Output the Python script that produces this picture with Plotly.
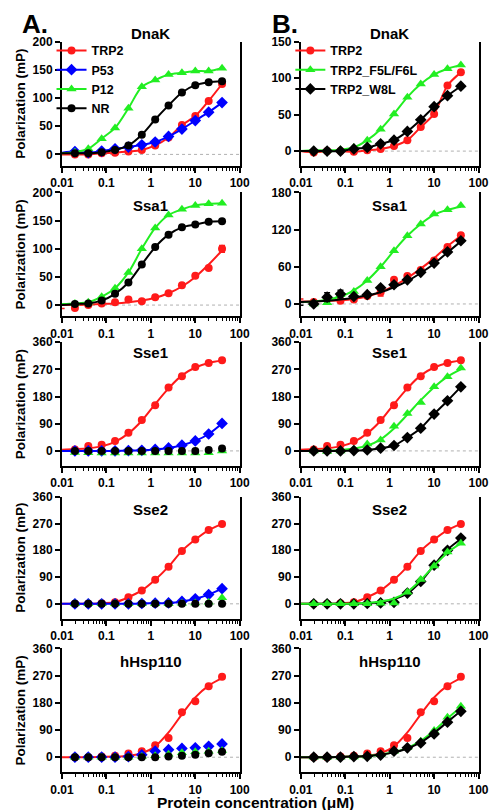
import plotly.graph_objects as go

# ---------------- data ----------------
CONC = [0.0098, 0.0195, 0.039, 0.078, 0.156, 0.3125, 0.625, 1.25, 2.5, 5, 10, 20, 40]
X_TICKVALS = [0.01, 0.1, 1, 10, 100]
X_TICKTEXT = ["0.01", "0.1", "1", "10", "100"]

ROW_TITLES = ["DnaK", "Ssa1", "Sse1", "Sse2", "hHsp110"]
A_NAMES = ["TRP2", "P53", "P12", "NR"]
B_NAMES = ["TRP2", "TRP2_F5L/F6L", "TRP2_W8L"]

# Panel A (measured points; *_fit = fitted curve read at the same concentrations)
A_DnaK_TRP2 = [0, 0, 0, 2, 3, 5, 8, 16, 30, 52, 68, 95, 125]
A_DnaK_P53 = [3, 5, 3, 6, 10, 13, 17, 22, 32, 45, 60, 75, 92]
A_DnaK_P12 = [2, 4, 10, 28, 47, 82, 120, 132, 142, 145, 148, 148, 153]
A_DnaK_NR = [2, 2, 2, 4, 8, 16, 35, 62, 87, 110, 123, 128, 130]

A_Ssa1_TRP2 = [-6, -5, 0, 3, 5, 10, 7, 14, 21, 35, 52, 66, 100]
A_Ssa1_TRP2_fit = [0, 0, 1, 2, 3, 5, 8, 13, 21, 33, 50, 72, 97]
A_Ssa1_TRP2_err = [0, 0, 0, 0, 0, 0, 0, 0, 0, 0, 0, 0, 6]
A_Ssa1_P12 = [2, 3, 5, 15, 30, 58, 100, 137, 160, 170, 177, 180, 181]
A_Ssa1_NR = [0, 2, 3, 8, 20, 40, 72, 103, 125, 138, 143, 148, 149]

A_Sse1_TRP2 = [2, 5, 16, 20, 33, 60, 102, 151, 210, 247, 278, 291, 300]
A_Sse1_TRP2_fit = [4, 6, 9, 15, 30, 58, 100, 155, 207, 250, 276, 291, 299]
A_Sse1_P53 = [0, 0, 0, 0, 0, 1, 2, 5, 10, 19, 33, 56, 91]
A_Sse1_P12 = [-3, -5, -6, -7, -7, -7, -7, -7, -7, -7, -7, -6, 0]
A_Sse1_NR = [0, 0, 0, 0, 0, 0, 0, 0, 0, 0, 0, 3, 8]

A_Sse2_TRP2 = [0, 0, 0, 2, 5, 22, 45, 81, 125, 178, 216, 248, 268]
A_Sse2_P53 = [0, 0, 0, 0, 0, 0, 1, 2, 3, 8, 17, 31, 51]
A_Sse2_P12 = [0, 0, 0, 0, 0, 0, 0, 0, 0, 2, 3, 5, 20]
A_Sse2_NR = [0, 0, 0, 0, 0, 0, 0, 0, 0, 0, 0, 0, 0]

A_Hsp_TRP2 = [0, 0, 0, 2, 5, 12, 20, 40, 64, 149, 185, 235, 266]
A_Hsp_TRP2_fit = [0, 0, 0, 1, 2, 5, 13, 36, 82, 142, 198, 237, 262]
A_Hsp_P53 = [0, 0, 0, 0, 0, 2, 8, 20, 25, 29, 31, 36, 44]
A_Hsp_P12 = [0, 0, 0, 0, 0, 0, 2, 5, 10, 15, 18, 20, 22]
A_Hsp_NR = [0, 0, 0, 0, 0, 0, 0, 0, 2, 5, 8, 13, 18]

# Panel B
B_DnaK_TRP2 = [0, -2, 0, 0, -1, 1, 3, 7, 15, 33, 51, 90, 108]
B_DnaK_F5L = [0, 1, 1, 2, 5, 15, 30, 51, 74, 92, 105, 113, 118]
B_DnaK_W8L = [0, 0, 0, 0, 3, 5, 10, 15, 27, 43, 61, 76, 89]

B_Ssa1_TRP2 = [8, 3, 8, 5, 7, 13, 19, 39, 45, 55, 70, 92, 111]
B_Ssa1_TRP2_fit = [4, 4, 5, 6, 8, 12, 19, 29, 42, 57, 74, 93, 110]
B_Ssa1_TRP2_err = [0, 0, 0, 0, 0, 0, 6, 0, 0, 0, 0, 0, 0]
B_Ssa1_F5L = [0, 0, 2, 15, 20, 38, 60, 86, 110, 129, 145, 152, 159]
B_Ssa1_F5L_fit = [3, 4, 7, 12, 22, 38, 60, 86, 110, 129, 144, 152, 157]
B_Ssa1_W8L = [-2, 0, 11, 16, 12, 15, 26, 31, 39, 51, 66, 84, 102]
B_Ssa1_W8L_fit = [3, 4, 5, 7, 10, 14, 19, 27, 37, 50, 65, 83, 101]
B_Ssa1_W8L_err = [0, 0, 7, 6, 0, 0, 0, 0, 0, 0, 0, 0, 0]

B_Sse1_TRP2 = [2, 5, 16, 20, 33, 60, 102, 151, 210, 247, 278, 291, 300]
B_Sse1_TRP2_fit = [4, 6, 9, 15, 30, 58, 100, 155, 207, 250, 276, 291, 299]
B_Sse1_F5L = [0, 0, -2, 0, 5, 23, 36, 82, 124, 160, 212, 245, 274]
B_Sse1_F5L_fit = [0, 0, 1, 3, 8, 17, 38, 74, 120, 168, 211, 246, 270]
B_Sse1_W8L = [0, 0, 0, 0, 1, 3, 9, 18, 44, 75, 122, 166, 212]

B_Sse2_TRP2 = [0, 0, 0, 2, 5, 22, 45, 81, 125, 178, 216, 248, 268]
B_Sse2_F5L = [0, 0, 0, 0, 0, 0, 2, 3, 39, 82, 127, 174, 204]
B_Sse2_F5L_fit = [0, 0, 0, 0, 1, 3, 8, 18, 40, 80, 128, 172, 203]
B_Sse2_W8L = [0, 0, 0, 0, 0, 1, 3, 5, 36, 75, 130, 180, 221]
B_Sse2_W8L_fit = [0, 0, 0, 0, 1, 2, 6, 15, 35, 75, 130, 182, 218]

B_Hsp_TRP2 = [0, 0, 0, 2, 5, 12, 20, 40, 64, 149, 185, 235, 266]
B_Hsp_TRP2_fit = [0, 0, 0, 1, 2, 5, 13, 36, 82, 142, 198, 237, 262]
B_Hsp_F5L = [0, 0, 0, 0, 1, 3, 8, 20, 31, 53, 88, 132, 169]
B_Hsp_F5L_fit = [0, 0, 0, 1, 2, 4, 9, 17, 31, 54, 88, 128, 166]
B_Hsp_W8L = [0, 0, 0, 0, 2, 3, 7, 20, 31, 47, 77, 116, 152]
B_Hsp_W8L_fit = [0, 0, 0, 1, 2, 4, 8, 16, 29, 49, 80, 117, 153]

RED, BLUE, GREEN, BLACK = "#ff1a1a", "#0000ff", "#22ee22", "#000000"

# (name, values, fit or None, error or None, color, symbol, with_line)
PANEL_A = [
    [(A_NAMES[0], A_DnaK_TRP2, None, None, RED, "circle", True),
     (A_NAMES[1], A_DnaK_P53, None, None, BLUE, "diamond", True),
     (A_NAMES[2], A_DnaK_P12, None, None, GREEN, "triangle-up", True),
     (A_NAMES[3], A_DnaK_NR, None, None, BLACK, "circle", True)],
    [(A_NAMES[0], A_Ssa1_TRP2, A_Ssa1_TRP2_fit, A_Ssa1_TRP2_err, RED, "circle", True),
     (A_NAMES[2], A_Ssa1_P12, None, None, GREEN, "triangle-up", True),
     (A_NAMES[3], A_Ssa1_NR, None, None, BLACK, "circle", True)],
    [(A_NAMES[0], A_Sse1_TRP2, A_Sse1_TRP2_fit, None, RED, "circle", True),
     (A_NAMES[1], A_Sse1_P53, None, None, BLUE, "diamond", True),
     (A_NAMES[2], A_Sse1_P12, None, None, GREEN, "triangle-up", False),
     (A_NAMES[3], A_Sse1_NR, None, None, BLACK, "circle", False)],
    [(A_NAMES[0], A_Sse2_TRP2, None, None, RED, "circle", True),
     (A_NAMES[1], A_Sse2_P53, None, None, BLUE, "diamond", True),
     (A_NAMES[2], A_Sse2_P12, None, None, GREEN, "triangle-up", False),
     (A_NAMES[3], A_Sse2_NR, None, None, BLACK, "circle", False)],
    [(A_NAMES[0], A_Hsp_TRP2, A_Hsp_TRP2_fit, None, RED, "circle", True),
     (A_NAMES[1], A_Hsp_P53, None, None, BLUE, "diamond", False),
     (A_NAMES[2], A_Hsp_P12, None, None, GREEN, "triangle-up", False),
     (A_NAMES[3], A_Hsp_NR, None, None, BLACK, "circle", False)],
]
PANEL_B = [
    [(B_NAMES[0], B_DnaK_TRP2, None, None, RED, "circle", True),
     (B_NAMES[1], B_DnaK_F5L, None, None, GREEN, "triangle-up", True),
     (B_NAMES[2], B_DnaK_W8L, None, None, BLACK, "diamond", True)],
    [(B_NAMES[0], B_Ssa1_TRP2, B_Ssa1_TRP2_fit, B_Ssa1_TRP2_err, RED, "circle", True),
     (B_NAMES[1], B_Ssa1_F5L, B_Ssa1_F5L_fit, None, GREEN, "triangle-up", True),
     (B_NAMES[2], B_Ssa1_W8L, B_Ssa1_W8L_fit, B_Ssa1_W8L_err, BLACK, "diamond", True)],
    [(B_NAMES[0], B_Sse1_TRP2, B_Sse1_TRP2_fit, None, RED, "circle", True),
     (B_NAMES[1], B_Sse1_F5L, B_Sse1_F5L_fit, None, GREEN, "triangle-up", True),
     (B_NAMES[2], B_Sse1_W8L, None, None, BLACK, "diamond", True)],
    [(B_NAMES[0], B_Sse2_TRP2, None, None, RED, "circle", True),
     (B_NAMES[2], B_Sse2_W8L, B_Sse2_W8L_fit, None, BLACK, "diamond", True),
     (B_NAMES[1], B_Sse2_F5L, B_Sse2_F5L_fit, None, GREEN, "triangle-up", True)],
    [(B_NAMES[0], B_Hsp_TRP2, B_Hsp_TRP2_fit, None, RED, "circle", True),
     (B_NAMES[1], B_Hsp_F5L, B_Hsp_F5L_fit, None, GREEN, "triangle-up", True),
     (B_NAMES[2], B_Hsp_W8L, B_Hsp_W8L_fit, None, BLACK, "diamond", True)],
]

A_YRANGES = [(-20, 200), (-20, 200), (-50, 360), (-50, 360), (-50, 360)]
A_YTICKS = [[0, 50, 100, 150, 200], [0, 50, 100, 150, 200],
            [0, 90, 180, 270, 360], [0, 90, 180, 270, 360], [0, 90, 180, 270, 360]]
B_YRANGES = [(-20, 150), (-20, 180), (-50, 360), (-50, 360), (-50, 360)]
B_YTICKS = [[0, 50, 100, 150], [0, 60, 120, 180],
            [0, 90, 180, 270, 360], [0, 90, 180, 270, 360], [0, 90, 180, 270, 360]]

# ---------------- layout geometry ----------------
OFF = 8                       # page body margin
W, H = 500 - OFF, 810 - OFF


def px(v):                    # reference x pixel -> paper fraction
    return (v - OFF) / W


def py(v):                    # reference y pixel -> paper fraction
    return 1 - (v - OFF) / H


COL_X = [(52, 238), (302, 488)]
ROW_Y = [(35, 160), (187, 312), (338, 463), (494, 617), (647, 772)]
TITLE_FRAC = [1.064, 0.896, 0.92, 0.894, 0.896]
FONT = "Liberation Sans, Arial, sans-serif"
MARKER_SIZE = {"circle": 8, "diamond": 9, "triangle-up": 9}

fig = go.Figure()
layout = dict(
    width=W, height=H, margin=dict(l=0, r=0, t=0, b=0),
    paper_bgcolor="white", plot_bgcolor="white",
    font=dict(family=FONT, color="black"),
    showlegend=True,
)
shapes, annotations = [], []

for col, panel in enumerate([PANEL_A, PANEL_B]):
    yranges = A_YRANGES if col == 0 else B_YRANGES
    yticks = A_YTICKS if col == 0 else B_YTICKS
    for row in range(5):
        n = row * 2 + col + 1
        xs = "x" if n == 1 else f"x{n}"
        ys = "y" if n == 1 else f"y{n}"
        xk = "xaxis" if n == 1 else f"xaxis{n}"
        yk = "yaxis" if n == 1 else f"yaxis{n}"
        x0, x1 = COL_X[col]
        t0, t1 = ROW_Y[row]
        layout[xk] = dict(
            domain=[px(x0), px(x1)], anchor=ys, type="log", range=[-2, 2],
            tickmode="array", tickvals=X_TICKVALS, ticktext=X_TICKTEXT,
            ticks="outside", ticklen=5, tickwidth=2, tickcolor="black",
            showline=True, linecolor="black", linewidth=2, mirror=False,
            showgrid=False, zeroline=False,
            tickfont=dict(size=12, family=FONT, weight="bold", color="black"),
            minor=dict(dtick="D1", ticks="outside", ticklen=3, tickwidth=1.2,
                       tickcolor="black", showgrid=False),
        )
        yaxis = dict(
            domain=[py(t1), py(t0)], anchor=xs, range=list(yranges[row]),
            tickmode="array", tickvals=yticks[row],
            ticks="outside", ticklen=5, tickwidth=2, tickcolor="black",
            showline=True, linecolor="black", linewidth=2, mirror=True,
            showgrid=False, zeroline=False,
            tickfont=dict(size=12, family=FONT, weight="bold", color="black"),
        )
        if col == 0:
            yaxis["title"] = dict(text="Polarization (mP)", standoff=4,
                                  font=dict(size=13.5, family=FONT, weight="bold"))
        layout[yk] = yaxis

        shapes.append(dict(type="line", xref=f"{xs} domain", x0=0, x1=1,
                           yref=ys, y0=0, y1=0, layer="below",
                           line=dict(color="#b0b0b0", width=1, dash="dot")))
        annotations.append(dict(text=f"<b>{ROW_TITLES[row]}</b>", xref=f"{xs} domain",
                                yref=f"{ys} domain", x=0.5, y=TITLE_FRAC[row],
                                showarrow=False, xanchor="center", yanchor="middle",
                                font=dict(size=15, family=FONT, color="black")))

        for name, vals, fit, err, color, sym, with_line in panel[row]:
            legend_id = "legend" if col == 0 else "legend2"
            if fit is not None:
                fig.add_trace(go.Scatter(
                    x=CONC, y=fit, mode="lines", xaxis=xs, yaxis=ys,
                    line=dict(color=color, width=2, shape="spline", smoothing=1.0),
                    showlegend=False, hoverinfo="skip", legend=legend_id))
            draw_line = with_line and fit is None
            tr = dict(
                x=CONC, y=vals, name=name, xaxis=xs, yaxis=ys,
                mode="lines+markers" if draw_line else "markers",
                marker=dict(color=color, symbol=sym, size=MARKER_SIZE[sym],
                            line=dict(width=0)),
                cliponaxis=False,
                showlegend=(row == 0),
                legend=legend_id,
            )
            if draw_line:
                tr["line"] = dict(color=color, width=2, shape="spline", smoothing=0.8)
            if err is not None:
                tr["error_y"] = dict(type="data", array=err, visible=True,
                                     color=color, thickness=1.5, width=3)
            fig.add_trace(go.Scatter(**tr))

legend_common = dict(
    bgcolor="rgba(0,0,0,0)", borderwidth=0, xanchor="left", yanchor="top",
    font=dict(size=12.5, family=FONT, weight="bold", color="black"),
    itemwidth=30, tracegroupgap=0, traceorder="normal",
)
layout["legend"] = dict(x=px(41), y=py(29), **legend_common)
layout["legend2"] = dict(x=px(291), y=py(29), **legend_common)

annotations.append(dict(text="<b>A.</b>", xref="paper", yref="paper", x=0.0, y=1.0,
                        xanchor="left", yanchor="top", yshift=8, showarrow=False,
                        font=dict(size=26, family=FONT, color="black")))
annotations.append(dict(text="<b>B.</b>", xref="paper", yref="paper", x=px(270), y=1.0,
                        xanchor="left", yanchor="top", yshift=8, showarrow=False,
                        font=dict(size=26, family=FONT, color="black")))
annotations.append(dict(text="<b>Protein concentration (\u03bcM)</b>", xref="paper",
                        yref="paper", x=px(255), y=py(802), xanchor="center",
                        yanchor="middle", showarrow=False,
                        font=dict(size=15.5, family=FONT, color="black")))

layout["shapes"] = shapes
layout["annotations"] = annotations
fig.update_layout(**layout)
fig.write_html("out.html")
